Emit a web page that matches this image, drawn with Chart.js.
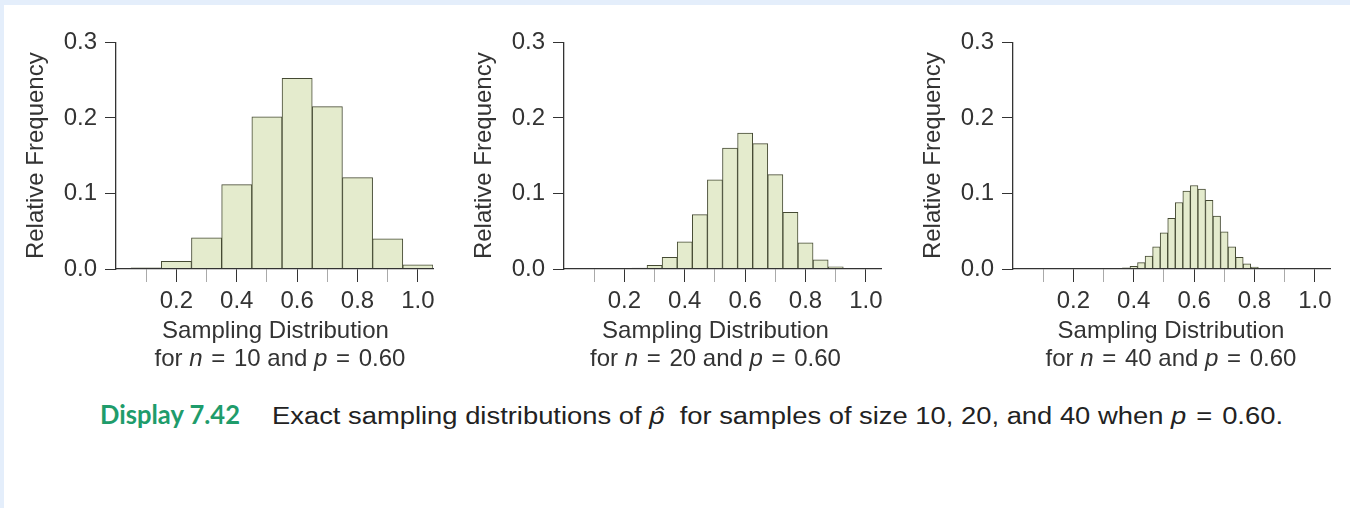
<!DOCTYPE html>
<html><head><meta charset="utf-8">
<script src="https://cdn.jsdelivr.net/npm/chart.js@4.4.0/dist/chart.umd.min.js"></script>
<style>
html,body{margin:0;padding:0;}
body{width:1350px;height:508px;background:#e4eefb;position:relative;overflow:hidden;font-family:'Liberation Sans',Arial,sans-serif;}
#sheet{position:absolute;left:4px;top:5px;right:0;bottom:0;background:#fff;}
canvas{position:absolute;top:20px;}
.xt{position:absolute;white-space:nowrap;color:#333;font-size:24px;line-height:28.4px;transform:translateX(-50%);}
.eq{margin:0 2px;}
.cap{position:absolute;white-space:nowrap;transform-origin:0 0;}
#capA{left:100px;top:397px;color:#1f9c6b;font-weight:bold;font-size:27px;font-family:Lato,'Liberation Sans',Arial,sans-serif;line-height:34px;}
#capB{left:272px;top:401px;color:#222;font-size:23px;line-height:30px;}
</style>
</head><body>
<div id="sheet"></div>
<canvas id="c0" width="437" height="300"></canvas>
<canvas id="c1" width="437" height="300"></canvas>
<canvas id="c2" width="437" height="300"></canvas>
<div id="titles"></div>
<div class="cap" id="capA">Display 7.42</div>
<div class="cap" id="capB">Exact sampling distributions of <i>p&#770;</i>&nbsp; for samples of size 10, 20, and 40 when <i>p</i> <span class="eq">=</span> 0.60.</div>
<script>
// ---- data ----
const pHat10 = [0.0, 0.1, 0.2, 0.3, 0.4, 0.5, 0.6, 0.7, 0.8, 0.9, 1.0];
const freq10 = [0.0001, 0.0016, 0.0100, 0.0413, 0.1116, 0.2013, 0.2523, 0.2150, 0.1210, 0.0400, 0.0055];

const pHat20 = [0.00, 0.05, 0.10, 0.15, 0.20, 0.25, 0.30, 0.35, 0.40, 0.45, 0.50,
                0.55, 0.60, 0.65, 0.70, 0.75, 0.80, 0.85, 0.90, 0.95, 1.00];
const freq20 = [0, 0, 0, 0, 0.0003, 0.0012, 0.0048, 0.0154, 0.0360, 0.0720, 0.1180,
                0.1600, 0.1800, 0.1660, 0.1250, 0.0750, 0.0345, 0.0120, 0.0030, 0.0005, 0];

const pHat40 = [0.000, 0.025, 0.050, 0.075, 0.100, 0.125, 0.150, 0.175, 0.200, 0.225,
                0.250, 0.275, 0.300, 0.325, 0.350, 0.375, 0.400, 0.425, 0.450, 0.475,
                0.500, 0.525, 0.550, 0.575, 0.600, 0.625, 0.650, 0.675, 0.700, 0.725,
                0.750, 0.775, 0.800, 0.825, 0.850, 0.875, 0.900, 0.925, 0.950, 0.975, 1.000];
const freq40 = [0, 0, 0, 0, 0, 0, 0, 0, 0, 0,
                0, 0, 0, 0.0002, 0.0006, 0.0015, 0.0035, 0.0084, 0.0172, 0.0295,
                0.0480, 0.0670, 0.0880, 0.1031, 0.1106, 0.1057, 0.0910, 0.0700, 0.0493, 0.0295,
                0.0154, 0.0070, 0.0026, 0.0008, 0.0002, 0, 0, 0, 0, 0, 0];

const xTickValues = [0.1, 0.2, 0.3, 0.4, 0.5, 0.6, 0.7, 0.8, 0.9, 1.0];
const xTickLabels = ['', '0.2', '', '0.4', '', '0.6', '', '0.8', '', '1.0'];
const yTickValues = [0.0, 0.1, 0.2, 0.3];
const yTickLabels = ['0.0', '0.1', '0.2', '0.3'];
const sampleSizes = [10, 20, 40];
const pText = '0.60';
const yTitle = 'Relative Frequency';
const xTitle = 'Sampling Distribution';

// ---- layout ----
const axisLeft = [116, 564, 1013];
const title1Center = [275.5, 715.5, 1171];
const title2Center = [280, 715.5, 1171];
const FONT = "'Liberation Sans', Arial, sans-serif";
const TXT = '#333';
const FS = 24;

function makeChart(idx, pHat, freq) {
  const cv = document.getElementById('c' + idx);
  cv.style.left = (axisLeft[idx] - 100) + 'px';
  new Chart(cv, {
    type: 'bar',
    data: {
      datasets: [{
        data: pHat.map((x, i) => ({x: x, y: freq[i]})),
        backgroundColor: '#e4ebcd',
        borderColor: '#454a33',
        borderWidth: 1,
        borderSkipped: 'start',
        barPercentage: 1,
        categoryPercentage: 1
      }]
    },
    options: {
      responsive: false,
      animation: false,
      devicePixelRatio: 1,
      layout: {padding: {left: 0, top: 21, right: 20, bottom: 0}},
      plugins: {legend: {display: false}, tooltip: {enabled: false}},
      scales: {
        x: {
          type: 'linear', min: 0, max: 1.05, offset: false,
          afterBuildTicks: s => { s.ticks = xTickValues.map(v => ({value: v})); },
          afterFit: s => { s.height = 51; },
          grid: {offset: false, drawOnChartArea: false, drawTicks: true, tickLength: 13, tickWidth: 1,
                 tickColor: c => (xTickLabels[c.index] ? '#333' : '#aaaaaa')},
          border: {display: true, color: '#333', width: 1.3, z: 1},
          ticks: {autoSkip: false, maxRotation: 0, padding: 5, color: TXT,
                  font: {family: FONT, size: FS},
                  callback: (v, i) => xTickLabels[i]}
        },
        y: {
          type: 'linear', min: 0, max: 0.3,
          afterBuildTicks: s => { s.ticks = yTickValues.map(v => ({value: v})); },
          afterFit: s => { s.width = 100; },
          grid: {drawOnChartArea: false, drawTicks: true, tickLength: 11, tickWidth: 1, tickColor: '#333'},
          border: {display: true, color: '#333', width: 1.3, z: 1},
          ticks: {padding: 8, color: TXT, font: {family: FONT, size: FS},
                  callback: (v, i) => yTickLabels[i]},
          title: {display: true, text: yTitle, color: TXT,
                  font: {family: FONT, size: FS, lineHeight: 1.2},
                  padding: {top: 6, bottom: 0}}
        }
      }
    }
  });
}
makeChart(0, pHat10, freq10);
makeChart(1, pHat20, freq20);
makeChart(2, pHat40, freq40);

// x titles (two lines, with italic symbols)
const tdiv = document.getElementById('titles');
sampleSizes.forEach((n, i) => {
  const a = document.createElement('div');
  a.className = 'xt'; a.style.left = title1Center[i] + 'px'; a.style.top = '316px';
  a.textContent = xTitle;
  const b = document.createElement('div');
  b.className = 'xt'; b.style.left = title2Center[i] + 'px'; b.style.top = '344.4px';
  b.innerHTML = 'for <i>n</i> <span class="eq">=</span> ' + n + ' and <i>p</i> <span class="eq">=</span> ' + pText;
  tdiv.appendChild(a); tdiv.appendChild(b);
});

// fit caption widths to the reference extents
function fitW(id, w) {
  const el = document.getElementById(id);
  const cw = el.getBoundingClientRect().width;
  el.style.transform = 'scaleX(' + (w / cw) + ')';
}
fitW('capA', 140);
fitW('capB', 1011);
</script>
</body></html>
